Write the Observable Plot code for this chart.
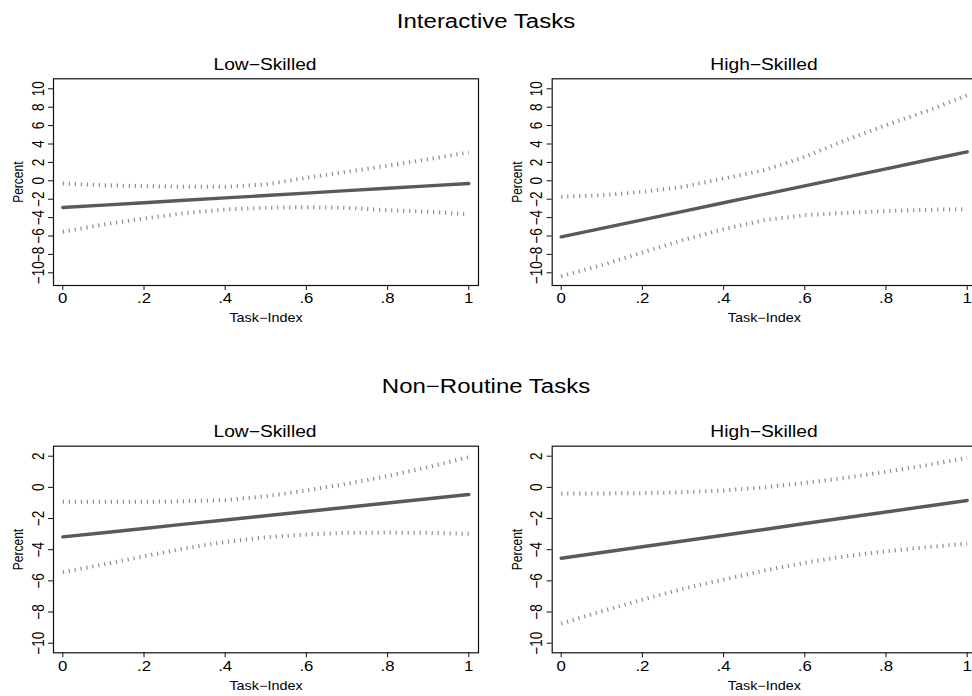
<!DOCTYPE html>
<html>
<head>
<meta charset="utf-8">
<script src="https://cdn.jsdelivr.net/npm/d3@7"></script>
<script src="https://cdn.jsdelivr.net/npm/@observablehq/plot@0.6"></script>
<style>
  html, body { margin: 0; padding: 0; background: #fff; }
  body { width: 972px; height: 696px; overflow: hidden; position: relative; font-family: "Liberation Sans", Arial, sans-serif; }
  .t { position: absolute; transform: translate(-50%, -50%) scaleX(1.2); white-space: nowrap; color: #000; line-height: 1; font-weight: normal; }
  .g { font-size: 20px; }
  .s { font-size: 16px; }
  .p { position: absolute; height: 290px; }
  .p svg { max-width: none !important; }
</style>
</head>
<body>
<div class="t g" style="left:486px; top:21px;">Interactive Tasks</div>
<div class="t s" style="left:265px; top:65px;">Low−Skilled</div>
<div class="t s" style="left:764px; top:65px;">High−Skilled</div>
<div class="t g" style="left:486px; top:386px;">Non−Routine Tasks</div>
<div class="t s" style="left:265px; top:432px;">Low−Skilled</div>
<div class="t s" style="left:764px; top:432px;">High−Skilled</div>
<div id="p1" class="p" style="left:0px; top:40px; width:486px;"></div>
<div id="p2" class="p" style="left:486px; top:40px; width:500px;"></div>
<div id="p3" class="p" style="left:0px; top:407px; width:486px;"></div>
<div id="p4" class="p" style="left:486px; top:407px; width:500px;"></div>
<script>
// Task-index grid at which values were read
const taskIndex = [0, 0.1, 0.2, 0.3, 0.4, 0.5, 0.6, 0.7, 0.8, 0.9, 1];

// Interactive tasks, low-skilled
const intLowMean  = [-2.90, -2.64, -2.38, -2.12, -1.86, -1.60, -1.34, -1.07, -0.81, -0.55, -0.29];
const intLowUpper = [-0.29, -0.48, -0.58, -0.65, -0.65, -0.40, 0.33, 0.98, 1.63, 2.35, 3.08];
const intLowLower = [-5.54, -4.75, -4.10, -3.52, -3.12, -2.93, -2.87, -2.93, -3.20, -3.37, -3.63];

// Interactive tasks, high-skilled
const intHighMean  = [-6.09, -5.17, -4.24, -3.32, -2.39, -1.47, -0.55, 0.38, 1.30, 2.23, 3.15];
const intHighUpper = [-1.74, -1.57, -1.20, -0.65, 0.25, 1.15, 2.60, 4.41, 6.05, 7.57, 9.30];
const intHighLower = [-10.37, -9.17, -7.79, -6.45, -5.26, -4.28, -3.74, -3.48, -3.30, -3.15, -3.08];

// Non-routine tasks, low-skilled
const nrLowMean  = [-3.18, -2.91, -2.64, -2.36, -2.09, -1.82, -1.55, -1.28, -1.00, -0.73, -0.46];
const nrLowUpper = [-0.93, -0.93, -0.93, -0.89, -0.82, -0.57, -0.20, 0.23, 0.72, 1.30, 1.94];
const nrLowLower = [-5.44, -4.95, -4.42, -3.92, -3.50, -3.20, -3.03, -2.92, -2.90, -2.92, -2.98];

// Non-routine tasks, high-skilled
const nrHighMean  = [-4.55, -4.18, -3.81, -3.44, -3.07, -2.70, -2.32, -1.95, -1.58, -1.21, -0.84];
const nrHighUpper = [-0.39, -0.39, -0.37, -0.31, -0.20, 0.00, 0.29, 0.61, 1.00, 1.42, 1.90];
const nrHighLower = [-8.74, -7.95, -7.20, -6.51, -5.92, -5.34, -4.84, -4.42, -4.10, -3.84, -3.62];

// Tick values
const xTicks = [0, 0.2, 0.4, 0.6, 0.8, 1];
const yTicksInteractive = [-10, -8, -6, -4, -2, 0, 2, 4, 6, 8, 10];
const yTicksNonRoutine = [-10, -8, -6, -4, -2, 0, 2];
const xLabel = "Task−Index";
const yLabel = "Percent";

const fmtX = d => d === 0 ? "0" : d === 1 ? "1" : String(d).replace(/^0/, "");
const fmtY = d => d < 0 ? "−" + Math.abs(d) : String(d);
const STRETCH = 1.2;

// widen glyphs horizontally on screen (the reference text is drawn wide),
// scaling each text about its own centre so positions are unchanged
function widenText(svg) {
  svg.querySelectorAll("text").forEach(el => {
    const bb = el.getBBox();
    const cx = bb.x + bb.width / 2, cy = bb.y + bb.height / 2;
    const m = el.getCTM();
    const rotated = m && Math.abs(m.b) > 0.5;
    const s = rotated ? `scale(1,${STRETCH})` : `scale(${STRETCH},1)`;
    const t = el.getAttribute("transform") || "";
    el.setAttribute("transform", `${t} translate(${cx},${cy}) ${s} translate(${-cx},${-cy})`.trim());
  });
}

function panel(mean, upper, lower, cfg) {
  const rows = taskIndex.map((x, i) => ({x, mean: mean[i], hi: upper[i], lo: lower[i]}));
  const dotted = {x: "x", stroke: "#8e8e8e", strokeWidth: 4, strokeDasharray: "1.2,4.8", strokeLinecap: "butt"};
  return Plot.plot({
    width: cfg.width,
    height: cfg.height,
    marginLeft: cfg.ml,
    marginRight: cfg.mr,
    marginTop: cfg.mt,
    marginBottom: cfg.mb,
    style: {fontFamily: "'Liberation Sans', Arial, sans-serif", fontSize: "13px", color: "#000", background: "transparent", overflow: "visible", maxWidth: "none"},
    x: {domain: [0, 1], range: cfg.xr, axis: null},
    y: {domain: cfg.yd, range: cfg.yr, axis: null},
    marks: [
      Plot.line(rows, {...dotted, y: "hi"}),
      Plot.line(rows, {...dotted, y: "lo"}),
      Plot.line(rows, {x: "x", y: "mean", stroke: "#5a5a5a", strokeWidth: 3.4, strokeLinecap: "round"}),
      Plot.frame({stroke: "#111", strokeWidth: 1.2}),
      Plot.axisX(xTicks, {anchor: "bottom", tickSize: 5, tickPadding: 3, tickFormat: fmtX, label: null, fontSize: 14, stroke: "#111"}),
      Plot.axisY(cfg.yt, {anchor: "left", tickSize: 5, tickFormat: () => "", label: null, stroke: "#111"}),
      Plot.text(cfg.yt, {y: d => d, text: fmtY, frameAnchor: "left", dx: -15, rotate: -90, textAnchor: "middle", lineAnchor: "middle", fontSize: 13.5, fill: "#000"}),
      Plot.text([yLabel], {text: d => d, frameAnchor: "left", dx: -35, rotate: -90, textAnchor: "middle", lineAnchor: "middle", fontSize: 12, fill: "#000"}),
      Plot.text([xLabel], {text: d => d, frameAnchor: "bottom", dy: 33, textAnchor: "middle", lineAnchor: "middle", fontSize: 12, fill: "#000"})
    ]
  });
}

const leftCol = {width: 486, ml: 53, mr: 8, xr: [62.3, 468.3]};
const rightCol = {width: 500, ml: 65.7, mr: 10, xr: [74.7, 480.7]};
const topRow = {height: 290, mt: 38.3, mb: 45, yd: [-10, 10], yr: [232.3, 48.3], yt: yTicksInteractive};
const bottomRow = {height: 290, mt: 38.7, mb: 44.7, yd: [-10, 2], yr: [235.7, 48.7], yt: yTicksNonRoutine};

const panels = [
  ["p1", panel(intLowMean, intLowUpper, intLowLower, {...leftCol, ...topRow})],
  ["p2", panel(intHighMean, intHighUpper, intHighLower, {...rightCol, ...topRow})],
  ["p3", panel(nrLowMean, nrLowUpper, nrLowLower, {...leftCol, ...bottomRow})],
  ["p4", panel(nrHighMean, nrHighUpper, nrHighLower, {...rightCol, ...bottomRow})]
];
for (const [id, svg] of panels) {
  document.getElementById(id).append(svg);
  widenText(svg);
}
</script>
</body>
</html>
